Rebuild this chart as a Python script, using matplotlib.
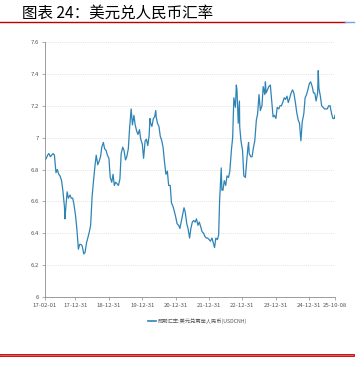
import matplotlib
matplotlib.use("Agg")
import matplotlib.pyplot as plt
from matplotlib.lines import Line2D
import pandas as pd

plt.rcParams['font.family'] = ['Noto Sans CJK SC', 'DejaVu Sans']

dates = [
 "2017-02-01","2017-02-15","2017-03-01","2017-03-15","2017-04-01","2017-04-15","2017-05-01","2017-05-15",
 "2017-06-01","2017-06-15","2017-07-01","2017-07-15","2017-08-01","2017-08-15","2017-09-01","2017-09-08",
 "2017-09-15","2017-10-01","2017-10-15","2017-11-01","2017-11-15","2017-12-01","2017-12-15",
 "2018-01-01","2018-01-15","2018-02-01","2018-02-15","2018-03-01","2018-03-15","2018-04-01","2018-04-15",
 "2018-05-01","2018-05-15","2018-06-01","2018-06-15","2018-07-01","2018-07-15","2018-08-01","2018-08-15",
 "2018-09-01","2018-09-15","2018-10-01","2018-10-15","2018-11-01","2018-11-15","2018-12-01","2018-12-15",
 "2019-01-01","2019-01-15","2019-02-01","2019-02-15","2019-03-01","2019-03-15","2019-04-01","2019-04-15",
 "2019-05-01","2019-05-15","2019-06-01","2019-06-15","2019-07-01","2019-07-15","2019-08-01","2019-08-15",
 "2019-09-01","2019-09-15","2019-10-01","2019-10-15","2019-11-01","2019-11-15","2019-12-01","2019-12-15",
 "2020-01-01","2020-01-15","2020-02-01","2020-02-15","2020-03-01","2020-03-15","2020-03-25","2020-04-01",
 "2020-04-15","2020-05-01","2020-05-15","2020-05-27","2020-06-01","2020-06-15","2020-07-01","2020-07-15",
 "2020-08-01","2020-08-15","2020-09-01","2020-09-15","2020-10-01","2020-10-15","2020-11-01","2020-11-15",
 "2020-12-01","2020-12-15",
 "2021-01-01","2021-01-15","2021-02-01","2021-02-15","2021-03-01","2021-03-15","2021-04-01","2021-04-15",
 "2021-05-01","2021-05-15","2021-06-01","2021-06-15","2021-07-01","2021-07-15","2021-08-01","2021-08-15",
 "2021-09-01","2021-09-15","2021-10-01","2021-10-15","2021-11-01","2021-11-15","2021-12-01","2021-12-15",
 "2022-01-01","2022-01-15","2022-02-01","2022-02-15","2022-03-01","2022-03-15","2022-04-01","2022-04-15",
 "2022-04-25","2022-05-01","2022-05-13","2022-05-20","2022-06-01","2022-06-15","2022-07-01","2022-07-15",
 "2022-08-01","2022-08-15","2022-09-01","2022-09-15","2022-09-28","2022-10-15","2022-10-25","2022-11-01",
 "2022-11-10","2022-11-15","2022-11-28","2022-12-01","2022-12-15",
 "2023-01-01","2023-01-15","2023-02-01","2023-02-15","2023-03-01","2023-03-08","2023-03-15","2023-04-01",
 "2023-04-15","2023-05-01","2023-05-15","2023-06-01","2023-06-15","2023-06-30","2023-07-15","2023-08-01",
 "2023-08-15","2023-09-01","2023-09-08","2023-09-15","2023-10-01","2023-10-15","2023-11-01","2023-11-15",
 "2023-12-01","2023-12-15",
 "2024-01-01","2024-01-15","2024-02-01","2024-02-15","2024-03-01","2024-03-15","2024-04-01","2024-04-15",
 "2024-05-01","2024-05-15","2024-06-01","2024-06-15","2024-07-01","2024-07-15","2024-08-01","2024-08-15",
 "2024-09-01","2024-09-15","2024-09-30","2024-10-15","2024-11-01","2024-11-15","2024-12-01","2024-12-15",
 "2025-01-01","2025-01-15","2025-02-01","2025-02-15","2025-03-01","2025-03-15","2025-04-01","2025-04-08",
 "2025-04-15","2025-05-01","2025-05-15","2025-06-01","2025-06-15","2025-07-01","2025-07-15","2025-08-01",
 "2025-08-15","2025-09-01","2025-09-15","2025-10-01","2025-10-08",
]

usdcnh = [
 6.86,6.87,6.89,6.90,6.88,6.89,6.90,6.89,
 6.78,6.80,6.77,6.76,6.73,6.67,6.57,6.49,
 6.55,6.66,6.62,6.64,6.62,6.62,6.58,
 6.51,6.43,6.30,6.33,6.33,6.32,6.27,6.28,
 6.34,6.37,6.41,6.45,6.63,6.72,6.82,6.89,
 6.83,6.85,6.88,6.94,6.97,6.93,6.92,6.89,
 6.87,6.75,6.72,6.77,6.70,6.72,6.71,6.70,
 6.74,6.90,6.94,6.92,6.86,6.88,6.93,7.06,
 7.18,7.08,7.14,7.08,7.04,7.02,7.05,6.99,
 6.96,6.87,6.98,6.99,6.95,7.01,7.12,7.09,
 7.07,7.12,7.13,7.17,7.13,7.09,7.07,7.01,
 6.98,6.94,6.84,6.77,6.79,6.70,6.70,6.59,
 6.57,6.54,
 6.50,6.46,6.45,6.43,6.47,6.51,6.56,6.53,
 6.46,6.43,6.37,6.43,6.47,6.48,6.47,6.49,
 6.45,6.47,6.44,6.41,6.40,6.38,6.37,6.37,
 6.36,6.35,6.37,6.34,6.31,6.37,6.36,6.39,
 6.60,6.67,6.81,6.67,6.67,6.73,6.70,6.76,
 6.75,6.79,6.92,7.00,7.25,7.19,7.33,7.30,
 7.17,7.09,7.23,7.07,6.98,
 6.92,6.76,6.75,6.85,6.94,6.97,6.90,6.88,
 6.88,6.94,6.98,7.11,7.15,7.27,7.17,7.20,
 7.32,7.27,7.35,7.28,7.30,7.32,7.33,7.24,
 7.13,7.14,
 7.12,7.19,7.18,7.20,7.20,7.22,7.25,7.24,
 7.26,7.22,7.25,7.28,7.30,7.28,7.22,7.16,
 7.11,7.09,6.98,7.10,7.15,7.25,7.27,7.30,
 7.34,7.35,7.32,7.28,7.28,7.23,7.28,7.42,
 7.31,7.26,7.20,7.19,7.18,7.18,7.18,7.20,
 7.20,7.15,7.12,7.12,7.14,
]

x_ticks = ["2017-02-01","2017-12-31","2018-12-31","2019-12-31","2020-12-31",
           "2021-12-31","2022-12-31","2023-12-31","2024-12-31","2025-10-08"]
y_ticks = [6, 6.2, 6.4, 6.6, 6.8, 7, 7.2, 7.4, 7.6]
y_labels = ["6", "6.2", "6.4", "6.6", "6.8", "7", "7.2", "7.4", "7.6"]

title = "图表 24：美元兑人民币汇率"
legend_label = "即期汇率:美元兑离岸人民币(USDCNH)"

line_color = "#2F84B6"
red = "#C00000"

d = pd.to_datetime(dates)
xt = pd.to_datetime(x_ticks)

fig = plt.figure(figsize=(3.64, 3.67), dpi=100)
ax = fig.add_axes([45/364, 1-297/367, 290/364, 255/367])

ax.plot(d, usdcnh, color=line_color, lw=0.9)

ax.set_xlim(xt[0], xt[-1])
ax.set_ylim(6, 7.6)
ax.set_xticks(xt)
ax.set_xticklabels([t.strftime("%y-%m-%d") for t in xt])
ax.set_yticks(y_ticks)
ax.set_yticklabels(y_labels)

for s in ["top", "right"]:
    ax.spines[s].set_visible(False)
for s in ["left", "bottom"]:
    ax.spines[s].set_color("#8C8C8C")
    ax.spines[s].set_linewidth(0.6)
ax.tick_params(axis="both", labelsize=4.3, colors="#8C8C8C", labelcolor="#555555",
               length=2.5, width=0.5, pad=1.5)
ax.yaxis.grid(True, color="#D9D9D9", linestyle=(0, (1.5, 1.5)), linewidth=0.5)
ax.set_axisbelow(True)

# title and decorative rules
fig.text(22/364, 1-13/367, title, fontsize=11.2, color="black", va="center", ha="left")
fig.add_artist(Line2D([0, 345/364], [1-21.5/367, 1-21.5/367], color=red, lw=1.0))
fig.add_artist(Line2D([345/364, 354/364], [1-21.5/367, 1-21.5/367], color="#6FA8DC", lw=1.0))
fig.add_artist(Line2D([0, 353/364], [1-355/367, 1-355/367], color=red, lw=2.0))
fig.add_artist(Line2D([0, 353/364], [1-355/367, 1-355/367], color="#F08080", lw=0.5))

# legend
ly = 1-321/367
fig.add_artist(Line2D([148/364, 156/364], [ly, ly], color=line_color, lw=1.2))
fig.text(158/364, ly, legend_label, fontsize=3.8, color="#555555", va="center", ha="left")

fig.savefig("out.png", dpi=100)
